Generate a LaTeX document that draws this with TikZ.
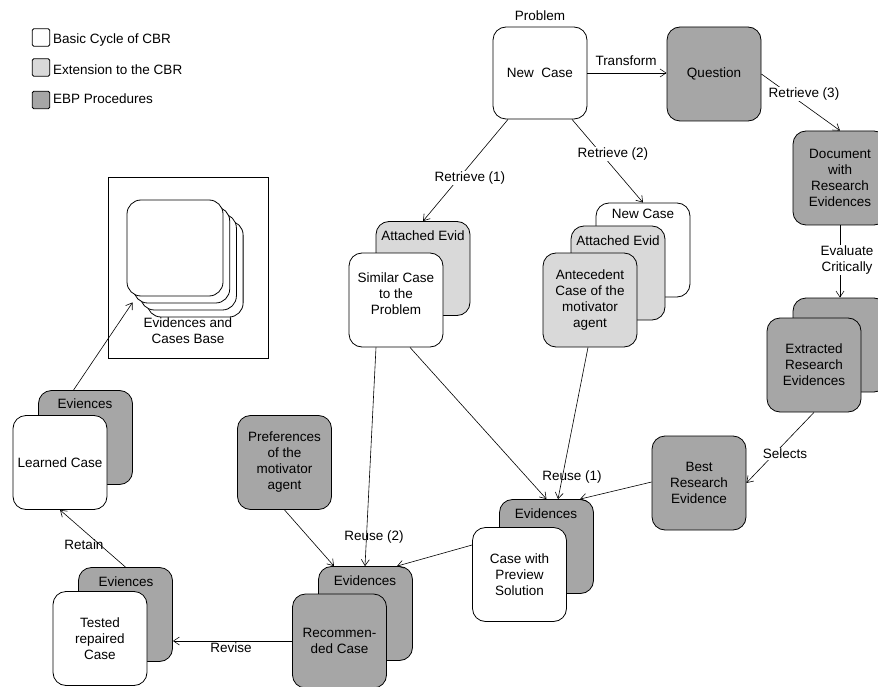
\documentclass[tikz,border=0pt]{standalone}
\usepackage{fontspec}
\setmainfont{Liberation Sans}
\usetikzlibrary{arrows.meta}
\definecolor{dgray}{HTML}{A6A6A6}
\definecolor{lgray}{HTML}{D9D9D9}
\begin{document}
\begin{tikzpicture}[x=1pt,y=-1pt,
  every node/.style={font=\fontsize{13.5}{16}\selectfont},
  card/.style={draw, line width=0.8pt, rounded corners=13pt, minimum width=94pt, minimum height=94pt, align=center, inner sep=2pt},
  wcard/.style={card, fill=white},
  lcard/.style={card, fill=lgray},
  dcard/.style={card, fill=dgray},
  conn/.style={line width=0.6pt, -{Straight Barb[length=6pt,width=8pt]}},
  lbl/.style={inner sep=1pt, align=center},
  wlbl/.style={lbl, fill=white},
  legbox/.style={draw, line width=0.8pt, rounded corners=1.5pt, minimum size=17.5pt, inner sep=0pt}
]
\useasboundingbox (0,0) rectangle (878,687);

% legend
\node[legbox, fill=white] (leg1) at (41,37.5) {};
\node[legbox, fill=lgray] (leg2) at (41,67.5) {};
\node[legbox, fill=dgray] (leg3) at (41,100) {};
\node[lbl, anchor=west] (legt1) at (52,40) {Basic Cycle of CBR};
\node[lbl, anchor=west] (legt2) at (52,70) {Extension to the CBR};
\node[lbl, anchor=west] (legt3) at (52,99) {EBP Procedures};

% top
\node[lbl] (problem) at (540,16) {Problem};
\node[wcard, minimum height=92pt] (newcase) at (540,73) {New~~Case};
\node[dcard] (question) at (714,74) {Question};
\node[dcard] (doc) at (840,178) {Document\\with\\Research\\Evidences};
\node[dcard] (extback) at (840,345) {};
\node[dcard] (extfront) at (814,365) {Extracted\\Research\\Evidences};
\node[dcard] (best) at (699,483) {Best\\Research\\Evidence};

% similar case stack
\node[lcard] (simback) at (423,268.5) {};
\node[lbl] (simevid) at (423,236) {Attached Evid};
\node[wcard] (simfront) at (396,300) {Similar Case\\to the\\Problem\\[-4pt]};

% antecedent stack
\node[wcard] (antnew) at (643,250) {};
\node[lbl] (antnewt) at (643,214) {New Case};
\node[lcard] (antatt) at (618,273) {};
\node[lbl] (antattt) at (618,241) {Attached Evid};
\node[lcard] (antfront) at (590,300) {Antecedent\\Case of the\\motivator\\agent};

% preview stack
\node[dcard] (prevback) at (546.5,546.5) {};
\node[lbl] (prevevid) at (546,514) {Evidences};
\node[wcard] (prevfront) at (519.5,574.5) {Case with\\Preview\\Solution};

% preferences
\node[dcard] (prefs) at (284.5,462.5) {Preferences\\of the\\motivator\\agent};

% recommended stack
\node[dcard] (recback) at (365.5,613.5) {};
\node[lbl] (recevid) at (365,581) {Evidences};
\node[dcard] (recfront) at (339.5,641) {Recommen-\\ded Case};

% tested stack
\node[dcard] (testback) at (125.5,614.5) {};
\node[lbl] (testevid) at (126,582) {Eviences};
\node[wcard] (testfront) at (100,638.5) {Tested\\repaired\\Case};

% learned stack
\node[dcard] (learnback) at (85.5,437.5) {};
\node[lbl] (learnevid) at (85,404) {Eviences};
\node[wcard] (learnfront) at (60,462.5) {Learned Case};

% base
\node[draw, line width=0.8pt, minimum width=160pt, minimum height=181pt] (base) at (188,267.5) {};
\foreach \i in {3,2,1,0}
  \node[wcard, minimum width=96pt, minimum height=96pt, rounded corners=14pt] (inner\i) at (175+6.7*\i, 248+7*\i) {};
\node[lbl] (basetext) at (188,331) {Evidences and\\Cases Base};

% connectors
\draw[conn] (newcase.east) -- (newcase.east -| question.west);
\node[lbl] (ltransform) at (626,61) {Transform};
\draw[conn] (question.east) -- (doc.north);
\node[wlbl] (lret3) at (804,94) {Retrieve (3)};
\draw[conn] ([xshift=-32pt]newcase.south) -- (simback.north);
\node[wlbl] (lret1) at (470,178) {Retrieve (1)};
\draw[conn] ([xshift=32pt]newcase.south) -- (antnew.north);
\node[wlbl] (lret2) at (613,154) {Retrieve (2)};
\draw[conn] (doc.south) -- (extback.north);
\node[wlbl] (leval) at (847,260) {Evaluate\\Critically};
\draw[conn] (extfront.south) -- (best.east);
\node[wlbl] (lsel) at (785,454) {Selects};
\draw[conn] ([yshift=1pt]best.west) -- ([xshift=33.5pt]prevback.north);
\draw[conn] ([xshift=14pt]simfront.south) -- (prevback.north);
\draw[conn] ([xshift=-2pt]antfront.south) -- ([xshift=11.5pt]prevback.north);
\node[lbl] (lreuse1) at (572,477) {Reuse (1)};
\draw[conn] ([xshift=-20pt]simfront.south) -- ([xshift=-0.5pt]recback.north);
\node[lbl] (lreuse2) at (374,537) {Reuse (2)};
\draw[conn] ([yshift=29.5pt]prevfront.west) -- ([xshift=31.5pt]recback.north);
\draw[conn] (prefs.south) -- ([xshift=-31.5pt]recback.north);
\draw[conn] (recfront.west) -- (recfront.west -| testback.east);
\node[lbl] (lrevise) at (231,648) {Revise};
\draw[conn] (testback.north) -- (learnfront.south);
\node[lbl] (lretain) at (84,545) {Retain};
\draw[conn] ([xshift=-12pt]learnback.north) -- ([shift={(6pt,-6pt)}]inner0.south west);
\end{tikzpicture}
\end{document}
